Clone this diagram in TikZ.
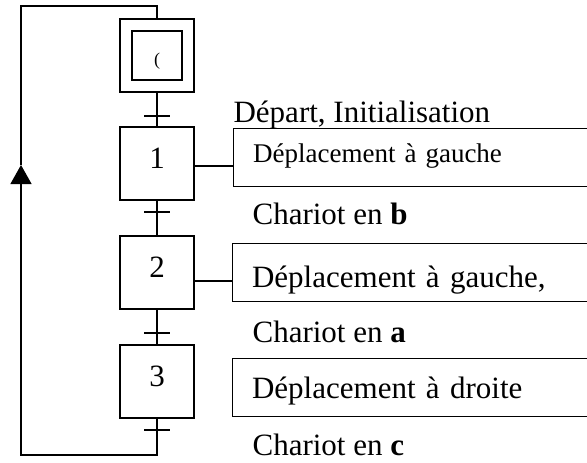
\documentclass[tikz,border=0pt]{standalone}
\usepackage{fontspec}
\setmainfont{Liberation Serif}
\usetikzlibrary{arrows.meta}
\tikzset{stepbox/.style={draw,minimum width=74pt,minimum height=73pt,inner sep=0pt,text height=21pt,text depth=12pt,font=\fontsize{31}{36}\selectfont},
actbox/.style={draw,anchor=north west,inner xsep=19.5pt,inner ysep=0pt,text width=360pt,align=left,minimum height=58pt,font=\fontsize{31}{36}\selectfont},
lbl/.style={anchor=base west,inner sep=0pt,font=\fontsize{31}{36}\selectfont}}

\begin{document}
\begin{tikzpicture}[x=1pt,y=-1pt,line width=1.2pt]
\useasboundingbox (0,0) rectangle (587,463);
\clip (0,0) rectangle (587,463);
\node[stepbox] (s0) at (157,55.5) {};
\node[stepbox,minimum width=50pt,minimum height=49pt,text height=22pt,text depth=3pt,font=\fontsize{18}{20}\selectfont] (s0i) at (s0) {(};
\foreach \n/\y in {1/163.5,2/272.5,3/381.5}{\node[stepbox] (s\n) at (157,\y) {\n};}
\foreach \tn/\y in {t1/116,t2/212,t3/333,t4/430}{\coordinate (\tn) at (157,\y);}
\coordinate (c1) at (157,455);\coordinate (c2) at (21,455);\coordinate (aw) at (21,165);\coordinate (c3) at (21,6);\coordinate (c4) at (157,6);
\draw (s0.south) -- (s1.north);\draw (s1.south) -- (s2.north);\draw (s2.south) -- (s3.north);
\draw[-{Triangle[length=19pt,width=21pt]}] (s3.south) -- (c1) -- (c2) -- (aw);
\draw (aw) -- (c3) -- (c4) -- (s0.north);
\foreach \tn in {t1,t2,t3,t4}{\draw ([xshift=-13pt]\tn) -- ([xshift=13pt]\tn);}
\node[actbox,text height=20pt,text depth=10pt,font=\fontsize{27}{32}\selectfont] (a1) at (233,128) {Déplacement à gauche};
\node[actbox,minimum height=57.5pt,text height=40pt,text depth=9.5pt] (a2) at (232,243) {Déplacement à gauche,};
\node[actbox,text height=30pt,text depth=8pt] (a3) at (232,358) {Déplacement à droite};
\coordinate (l1) at ([yshift=-2.5pt]s1.east);\coordinate (l2) at ([yshift=-8.5pt]s2.east);
\draw (l1) -- (l1 -| a1.west);\draw (l2) -- (l2 -| a2.west);
\node[lbl] (dep) at (233,122) {Départ, Initialisation};
\node[lbl] (cb) at (252,224) {Chariot en \textbf{b}};
\node[lbl] (ca) at (252,342) {Chariot en \textbf{a}};
\node[lbl] (cc) at (252,455) {Chariot en \textbf{c}};
\end{tikzpicture}
\end{document}
